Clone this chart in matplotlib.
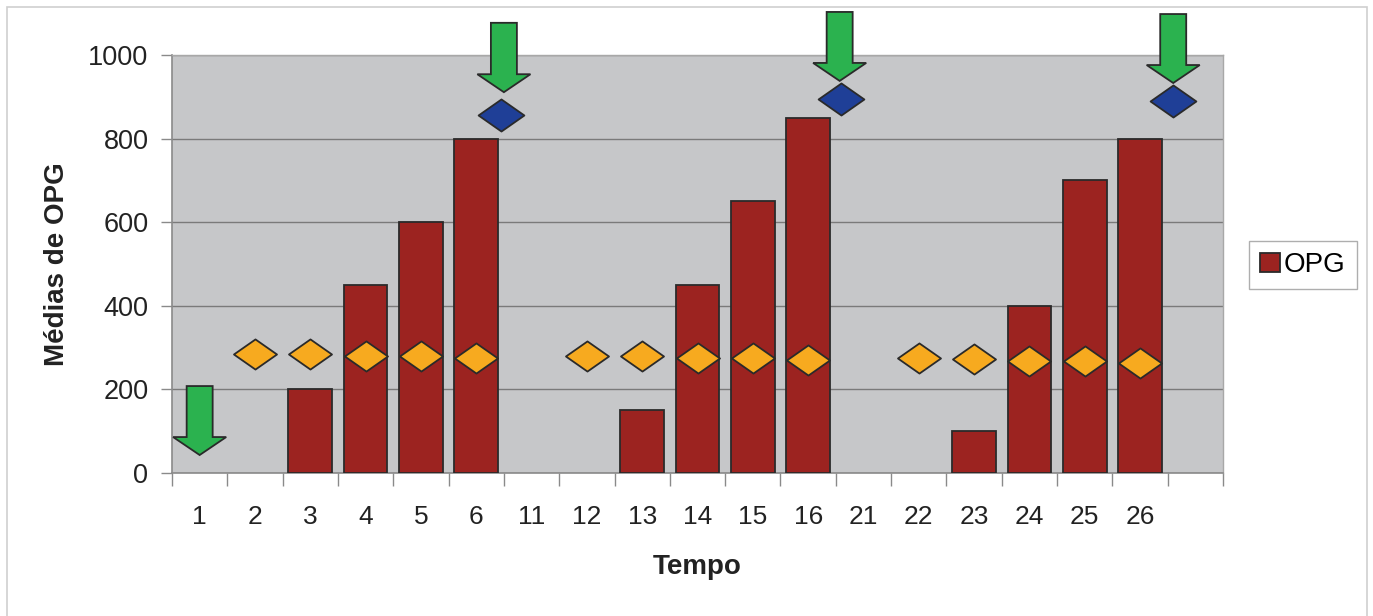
import numpy as np
import matplotlib
matplotlib.use("Agg")
import matplotlib.pyplot as plt
from matplotlib.path import Path
from matplotlib.patches import Rectangle

plt.rcParams['font.family'] = ['Liberation Sans', 'DejaVu Sans']

# categorias (o último slot fica vazio no original)
tempo = ['1', '2', '3', '4', '5', '6', '11', '12', '13', '14', '15', '16',
         '21', '22', '23', '24', '25', '26', '']
opg = [0, 0, 200, 450, 600, 800, 0, 0, 150, 450, 650, 850,
       0, 0, 100, 400, 700, 800, 0]

# marcadores laranja (posição de categoria, valor)
laranja_pos = [1, 2, 3, 4, 5, 7, 8, 9, 10, 11, 13, 14, 15, 16, 17]
laranja_val = [285, 285, 279, 280, 274, 280, 280, 275, 274, 270, 274, 273, 267, 268, 263]

# marcadores azuis
azul_pos = [5.45, 11.6, 17.6]
azul_val = [856, 895, 890]

# setas verdes (posição, topo, ponta)
seta_pos = [0.0, 5.5, 11.57, 17.6]
seta_topo = [208, 1077, 1103, 1098]
seta_ponta = [43, 911, 938, 933]

fig = plt.figure(figsize=(13.73, 6.16), dpi=100)
fig.patches.append(Rectangle((7 / 1373, -0.01), 1360 / 1373, 1 - 7 / 616 + 0.01,
                             transform=fig.transFigure, fill=False,
                             edgecolor='#cfcfcf', linewidth=1.2, zorder=0))

ax = fig.add_axes([172 / 1373, (616 - 473) / 616, 1051 / 1373, 418 / 616])
ax.set_facecolor('#c6c7c9')

x = np.arange(len(tempo))
opg = np.array(opg)
tem = opg > 0
ax.bar(x[tem], opg[tem], width=0.79, color='#9c2320', edgecolor='#2a2a2a',
       linewidth=1.3, label='OPG', zorder=3)

diamante = Path([(-1, 0), (0, 0.7), (1, 0), (0, -0.7), (-1, 0)],
                [Path.MOVETO, Path.LINETO, Path.LINETO, Path.LINETO, Path.CLOSEPOLY])

ax.plot(laranja_pos, laranja_val, linestyle='none', marker=diamante,
        markersize=31, markerfacecolor='#f7aa1f', markeredgecolor='#2a2a2a',
        markeredgewidth=1.3, zorder=4)
ax.plot(azul_pos, azul_val, linestyle='none', marker=diamante,
        markersize=33, markerfacecolor='#1f3f97', markeredgecolor='#2a2a2a',
        markeredgewidth=1.3, zorder=4, clip_on=False)

for px, topo, ponta in zip(seta_pos, seta_topo, seta_ponta):
    ax.arrow(px, topo, 0, ponta - topo, width=0.47, head_width=0.96,
             head_length=43, length_includes_head=True,
             facecolor='#2bb24f', edgecolor='#2a2a2a', linewidth=1.3,
             zorder=5, clip_on=False)

ax.set_xlim(-0.5, len(tempo) - 0.5)
ax.set_ylim(0, 1000)
ax.set_yticks([0, 200, 400, 600, 800, 1000])
ax.yaxis.grid(True, color='#7a7a7a', linewidth=1.0, zorder=0)
ax.set_axisbelow(True)

ax.set_xticks(x)
ax.set_xticklabels(tempo)
ax.set_xticks(np.arange(len(tempo) + 1) - 0.5, minor=True)
ax.tick_params(axis='x', which='major', length=0, pad=23, labelsize=19, colors='#222222')
ax.tick_params(axis='x', which='minor', length=9, width=1, color='#8a8a8a')
ax.tick_params(axis='y', length=8, width=1, color='#8a8a8a', pad=9,
               labelsize=19.5, labelcolor='#222222')

for s in ['top', 'right']:
    ax.spines[s].set_color('#a8a8a8')
    ax.spines[s].set_linewidth(1)
for s in ['left', 'bottom']:
    ax.spines[s].set_color('#8a8a8a')
    ax.spines[s].set_linewidth(1.2)

ax.set_ylabel('Médias de OPG', fontsize=20, fontweight='bold', color='#222222', labelpad=13)
ax.set_xlabel('Tempo', fontsize=20, fontweight='bold', color='#222222', labelpad=18)

leg = fig.legend(loc='center', bbox_to_anchor=(1303 / 1373, 1 - 265 / 616),
                 fontsize=20, frameon=True, fancybox=False, handlelength=0.7,
                 handleheight=0.7, handletextpad=0.15, borderpad=0.4)
leg.get_frame().set_edgecolor('#9a9a9a')
leg.get_frame().set_linewidth(1)

fig.savefig('out.png', dpi=100)
